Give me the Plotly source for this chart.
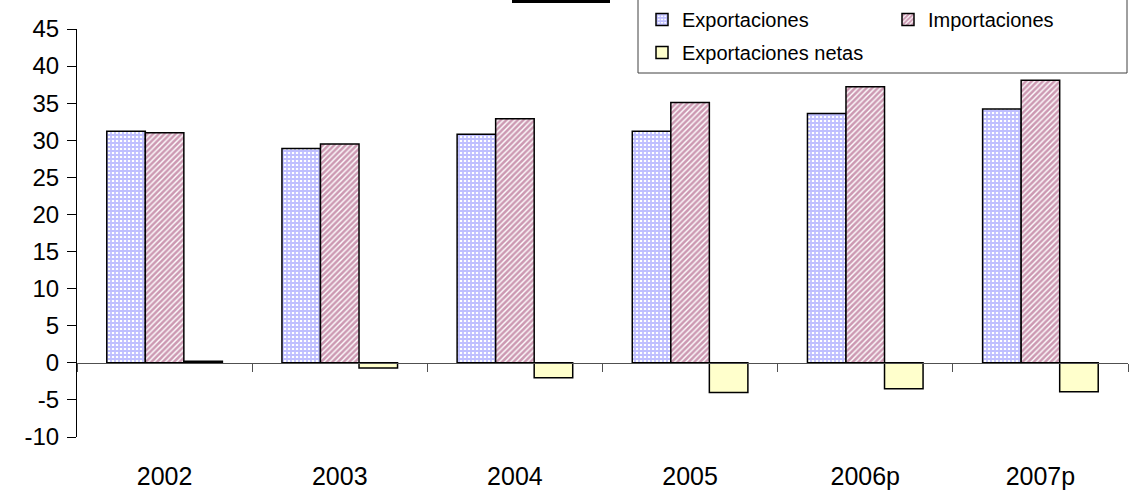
import plotly.graph_objects as go

years = ["2002", "2003", "2004", "2005", "2006p", "2007p"]
exportaciones = [31.2, 28.9, 30.8, 31.2, 33.6, 34.2]
importaciones = [31.0, 29.5, 32.9, 35.1, 37.2, 38.1]
netas = [0.2, -0.7, -2.0, -4.0, -3.5, -3.9]
y_ticks = [-10, -5, 0, 5, 10, 15, 20, 25, 30, 35, 40, 45]
y_tick_text = [str(v) for v in y_ticks]

W, H = 1130, 500
ml, mr, mt, mb = 77, 2, 29, 63
ph = H - mt - mb
pw = W - ml - mr


def px_x(p):
    return (p - ml) / pw


def px_y(p):
    return 1 + (mt - p) / ph


fig = go.Figure()
fig.add_bar(x=years, y=exportaciones, name="Exportaciones", legend="legend",
            legendgroup="a", legendrank=1,
            marker=dict(color="white", line=dict(color="black", width=1.5),
                        pattern=dict(shape="+", fgcolor="#8080ff", bgcolor="#ffffff",
                                     size=4, solidity=0.7)))
fig.add_bar(x=years, y=importaciones, name="Importaciones", legend="legend2",
            legendgroup="b",
            marker=dict(color="white", line=dict(color="black", width=1.5),
                        pattern=dict(shape="/", fgcolor="#993366", bgcolor="#ffffff",
                                     size=4, solidity=0.65)))
fig.add_bar(x=years, y=netas, name="Exportaciones netas", legend="legend",
            legendgroup="c", legendrank=2,
            marker=dict(color="#FFFFCC", line=dict(color="black", width=1.5)))

ymin, ymax = -10, 45
zero_frac = (0 - ymin) / (ymax - ymin)

fig.add_scatter(x=years, y=[None] * len(years), xaxis="x2", showlegend=False,
                hoverinfo="skip")

legend_common = dict(orientation="v", xanchor="left", yanchor="top",
                     borderwidth=0, bgcolor="rgba(0,0,0,0)",
                     font=dict(size=20), itemwidth=30, tracegroupgap=4,
                     traceorder="grouped")

fig.update_layout(
    width=W, height=H,
    margin=dict(l=ml, r=mr, t=mt, b=mb, autoexpand=False),
    paper_bgcolor="white", plot_bgcolor="white",
    barmode="group", bargap=0.34, bargroupgap=0,
    font=dict(family="Liberation Sans, Arial, sans-serif", color="black"),
    xaxis=dict(type="category", showline=False, ticks="", showgrid=False,
               tickfont=dict(size=25), ticklabelstandoff=22, zeroline=False),
    xaxis2=dict(type="category", overlaying="x", anchor="free", position=zero_frac,
                matches="x", showline=True, linecolor="#505050", linewidth=1,
                ticks="outside", tickson="boundaries", ticklen=8, tickcolor="#505050",
                showticklabels=False, showgrid=False),
    yaxis=dict(range=[ymin, ymax], tickvals=y_ticks, ticktext=y_tick_text,
               showgrid=False, zeroline=False,
               showline=True, linecolor="black", linewidth=1,
               ticks="outside", ticklen=9, tickcolor="black",
               tickfont=dict(size=24), ticklabelstandoff=3),
    legend=dict(x=px_x(642), y=px_y(0), **legend_common),
    legend2=dict(x=px_x(888), y=px_y(0), **legend_common),
    showlegend=True,
)

# legend frame and the cut-off box at the top edge
fig.add_shape(type="rect", xref="paper", yref="paper",
              x0=px_x(638), x1=px_x(1127), y0=px_y(73), y1=px_y(-2),
              fillcolor="white", line=dict(color="#404040", width=1))
fig.add_shape(type="rect", xref="paper", yref="paper",
              x0=px_x(512), x1=px_x(610), y0=px_y(3), y1=px_y(0),
              fillcolor="black", line=dict(width=0))

fig.write_html("out.html")
